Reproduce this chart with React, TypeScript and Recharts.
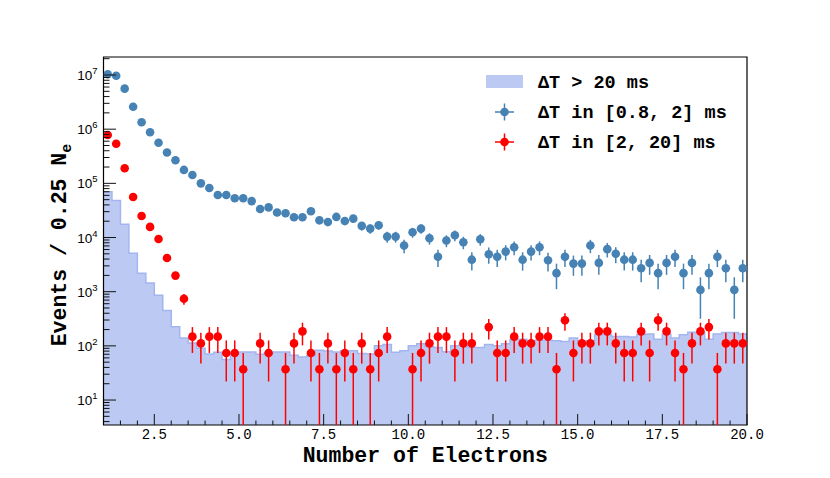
import {
  ComposedChart, Area, Scatter, ErrorBar, XAxis, YAxis, ReferenceArea, Legend, Label,
} from 'recharts'

// binning: 0.25 N_e wide bins between 1 and 20 electrons
const X_MIN = 1
const X_MAX = 20
const BIN_WIDTH = 0.25
const Y_DOMAIN: [number, number] = [3.46, 2.15e7]

// dT > 20 ms histogram (one value per bin)
const histValues = [
  70000, 48000, 17600, 5100, 2200, 1450, 860, 448, 226, 140,
  113, 90, 71, 76, 56, 72, 77, 77, 70, 74,
  77, 77, 67, 62, 66, 83, 80, 77, 81, 81,
  72, 71, 101, 106, 76, 81, 101, 109, 96, 93,
  78, 101, 104, 93, 93, 106, 101, 109, 129, 133,
  124, 127, 127, 124, 120, 139, 117, 124, 160, 160,
  149, 149, 146, 160, 166, 133, 166, 139, 160, 179,
  179, 133, 166, 176, 176, 166,
]

// dT in [0.8, 2] ms
const blueValues = [
  1.03e7, 9.7e6, 5.6e6, 2.6e6, 1.34e6, 8.8e5, 5.6e5, 3.7e5, 2.67e5, 1.77e5,
  1.43e5, 1.0e5, 8.2e4, 6.1e4, 6.1e4, 5.3e4, 5.3e4, 4.7e4, 3.37e4, 3.6e4,
  2.9e4, 2.8e4, 2.37e4, 2.37e4, 3.05e4, 2.08e4, 1.94e4, 2.4e4, 2.02e4, 2.23e4,
  1.64e4, 1.46e4, 1.69e4, 1.04e4, 1.04e4, 7.1e3, 1.25e4, 1.46e4, 9.7e3, 4.4e3,
  8.8e3, 1.1e4, 8.2e3, 3.9e3, 9.3e3, 4.9e3, 4.4e3, 5.5e3, 6.6e3, 3.9e3,
  5.5e3, 6.6e3, 3.8e3, 2.2e3, 4.4e3, 3.3e3, 3.3e3, 7.1e3, 3.4e3, 6.1e3,
  5.0e3, 3.9e3, 3.9e3, 2.7e3, 3.4e3, 2.2e3, 3.4e3, 4.4e3, 2.2e3, 3.4e3,
  1.08e3, 2.2e3, 4.4e3, 2.7e3, 1.08e3, 2.7e3,
]
const blueErrors = [
  74580, 72370, 54990, 37470, 26900, 21800, 17390, 14135, 12007, 9776,
  8787, 7348, 6654, 5739, 5739, 5350, 5350, 5038, 4266, 4409,
  3957, 3888, 3577, 3577, 4058, 3351, 3237, 3600, 3303, 3470,
  2976, 2808, 3021, 2370, 2370, 1958, 2598, 2808, 2289, 1541,
  2180, 2437, 2104, 1451, 2241, 1627, 1541, 1723, 1888, 1451,
  1723, 1888, 1432, 1090, 1541, 1335, 1335, 1958, 1355, 1815,
  1643, 1451, 1451, 1207, 1355, 1090, 1355, 1541, 1090, 1355,
  764, 1090, 1541, 1207, 764, 1207,
]

// dT in [2, 20] ms (null = empty bin)
const redValues = [
  7.8e5, 5.4e5, 1.9e5, 5.6e4, 2.5e4, 1.57e4, 9.4e3, 4.2e3, 1.98e3, 740,
  148, 111, 148, 148, 74, 74, 37, null, 111, 74,
  null, 37, 111, 185, 74, 37, 111, 37, 74, 37,
  111, 37, 74, 148, null, null, 37, 74, 111, 148,
  148, 74, 111, 111, null, 222, 74, 74, 148, 111,
  111, 148, 148, 37, 296, 74, 111, 111, 185, 185,
  111, 74, 74, 185, 74, 296, 185, 74, 37, 111,
  185, 222, 37, 111, 111, 111,
]
const redErrors = [
  5372, 4470, 2651, 1439, 962, 762, 590, 394, 271, 165,
  74, 64, 74, 74, 52, 52, 37, null, 64, 52,
  null, 37, 64, 83, 52, 37, 64, 37, 52, 37,
  64, 37, 52, 74, null, null, 37, 52, 64, 74,
  74, 52, 64, 64, null, 91, 52, 52, 74, 64,
  64, 74, 74, 37, 105, 52, 64, 64, 83, 83,
  64, 52, 52, 83, 52, 105, 83, 52, 37, 64,
  83, 91, 37, 64, 64, 64,
]

const xMajorTicks = [2.5, 5, 7.5, 10, 12.5, 15, 17.5, 20]
const xMinorStep = 0.5
const yMajorTicks = [10, 100, 1000, 10000, 100000, 1000000, 10000000]

const HIST_FILL = '#bccaf3'
const HIST_LINE = '#a3b5ee'
const BLUE = '#4682b4'
const RED = '#ff0000'
const MONO = '"Liberation Mono", "DejaVu Sans Mono", monospace'

const legendItems = [
  { kind: 'box', color: HIST_FILL, label: 'ΔT > 20 ms' },
  { kind: 'point', color: BLUE, label: 'ΔT in [0.8, 2] ms' },
  { kind: 'point', color: RED, label: 'ΔT in [2, 20] ms' },
]

// histogram as a step area on the bin edges (last edge repeats the last bin)
const histData = histValues.map((h, i) => ({ x: X_MIN + i * BIN_WIDTH, h }))
histData.push({ x: X_MAX, h: histValues[histValues.length - 1] })

const blueData = blueValues.map((y, i) => ({
  x: X_MIN + (i + 0.5) * BIN_WIDTH,
  y,
  err: blueErrors[i],
}))

const redData = redValues
  .map((y, i) => ({ x: X_MIN + (i + 0.5) * BIN_WIDTH, y, e: redErrors[i] }))
  .filter((p): p is { x: number; y: number; e: number } => p.y !== null && p.e !== null)
  .map(p => ({ x: p.x, y: p.y, err: [Math.min(p.e, p.y - Y_DOMAIN[0]), p.e] }))

const xTicks: number[] = []
for (let v = X_MIN + xMinorStep; v <= X_MAX + 1e-9; v += xMinorStep) xTicks.push(v)

const yTicks: number[] = []
for (const m of [1, ...yMajorTicks]) {
  for (let k = 1; k <= 9; k++) {
    const v = m * k
    if (v >= Y_DOMAIN[0] && v <= Y_DOMAIN[1]) yTicks.push(v)
  }
}

function XTick(props: any) {
  const { x, y, payload } = props
  const v = payload.value as number
  const major = xMajorTicks.some(t => Math.abs(t - v) < 1e-6)
  return (
    <g>
      <line x1={x} x2={x} y1={y} y2={y - (major ? 11 : 4.5)} stroke="#111" strokeWidth={1} />
      {major && (
        <text x={x} y={y + 14} textAnchor="middle" fontFamily={MONO} fontSize={14} fill="#000">
          {v.toFixed(1)}
        </text>
      )}
    </g>
  )
}

function YTick(props: any) {
  const { x, y, payload } = props
  const v = payload.value as number
  const major = yMajorTicks.includes(v)
  return (
    <g>
      <line x1={x} x2={x + (major ? 12.5 : 6)} y1={y} y2={y} stroke="#111" strokeWidth={1} />
      {major && (
        <text x={x - 6} y={y + 5} textAnchor="end" fontFamily="Liberation Sans, Arial" fontSize={13.5} fill="#000">
          10<tspan dy={-6} fontSize={9.5}>{Math.round(Math.log10(v))}</tspan>
        </text>
      )}
    </g>
  )
}

function PointShape(color: string) {
  return (p: any) => <circle cx={p.cx} cy={p.cy} r={4.3} fill={color} />
}

function LegendBox() {
  return (
    <svg width={270} height={95} style={{ display: 'block' }}>
      {legendItems.map((item, i) => {
        const cy = 20 + i * 30
        return (
          <g key={item.label}>
            {item.kind === 'box' ? (
              <rect x={8} y={cy - 7} width={37} height={13} fill={item.color} />
            ) : (
              <g>
                <line x1={17} x2={36} y1={cy} y2={cy} stroke={item.color} strokeWidth={1.5} />
                <line x1={26.5} x2={26.5} y1={cy - 8.5} y2={cy + 8.5} stroke={item.color} strokeWidth={1.5} />
                <circle cx={26.5} cy={cy} r={4.3} fill={item.color} />
              </g>
            )}
            <text x={60} y={cy + 6} fontFamily={MONO} fontWeight="bold" fontSize={18.5} fill="#000">
              {item.label}
            </text>
          </g>
        )
      })}
    </svg>
  )
}

export default function App() {
  return (
    <div style={{ width: 814, height: 462, position: 'relative' }}>
      <ComposedChart
        width={814}
        height={462}
        data={histData}
        margin={{ top: 49, right: 75, bottom: 0, left: 0 }}
      >
        <Area
          type="stepAfter"
          dataKey="h"
          baseValue="dataMin"
          fill={HIST_FILL}
          fillOpacity={1}
          stroke={HIST_LINE}
          strokeWidth={1.5}
          isAnimationActive={false}
        />
        <Scatter data={blueData} dataKey="y" shape={PointShape(BLUE)} isAnimationActive={false}>
          <ErrorBar dataKey="err" direction="y" width={0} stroke={BLUE} strokeWidth={1.5} isAnimationActive={false} />
        </Scatter>
        <Scatter data={redData} dataKey="y" shape={PointShape(RED)} isAnimationActive={false}>
          <ErrorBar dataKey="err" direction="y" width={0} stroke={RED} strokeWidth={1.5} isAnimationActive={false} />
        </Scatter>
        <XAxis
          type="number"
          dataKey="x"
          domain={[X_MIN, X_MAX]}
          allowDataOverflow
          ticks={xTicks}
          interval={0}
          tick={<XTick />}
          tickLine={false}
          axisLine={false}
          tickSize={0}
          tickMargin={0}
          height={45}
        >
          <Label
            content={(props: any) => {
              const vb = props.viewBox
              return (
                <text x={vb.x + vb.width / 2} y={vb.y + 37} textAnchor="middle" fontFamily={MONO} fontWeight="bold" fontSize={21.5} fill="#000">
                  Number of Electrons
                </text>
              )
            }}
          />
        </XAxis>
        <YAxis
          type="number"
          scale="log"
          domain={Y_DOMAIN}
          allowDataOverflow
          ticks={yTicks}
          interval={0}
          tick={<YTick />}
          tickLine={false}
          axisLine={false}
          tickSize={0}
          tickMargin={0}
          width={95.5}
        >
          <Label
            content={(props: any) => {
              const vb = props.viewBox
              const cx = vb.x + 58
              const cy = vb.y + vb.height / 2 + 4
              return (
                <text x={cx} y={cy} transform={`rotate(-90 ${cx} ${cy})`} textAnchor="middle" fontFamily={MONO} fontWeight="bold" fontSize={21.5} fill="#000">
                  Events / 0.25 N<tspan dy={5} fontSize={15}>e</tspan>
                </text>
              )
            }}
          />
        </YAxis>
        <ReferenceArea
          x1={X_MIN}
          x2={X_MAX}
          y1={Y_DOMAIN[0]}
          y2={Y_DOMAIN[1]}
          fill="none"
          fillOpacity={0}
          stroke="#000"
          strokeWidth={1.2}
          ifOverflow="visible"
        />
        <Legend
          verticalAlign="middle"
          align="center"
          layout="horizontal"
          wrapperStyle={{ position: 'absolute', left: 470, top: 54, width: 270 }}
          content={() => <LegendBox />}
        />
      </ComposedChart>
    </div>
  )
}
